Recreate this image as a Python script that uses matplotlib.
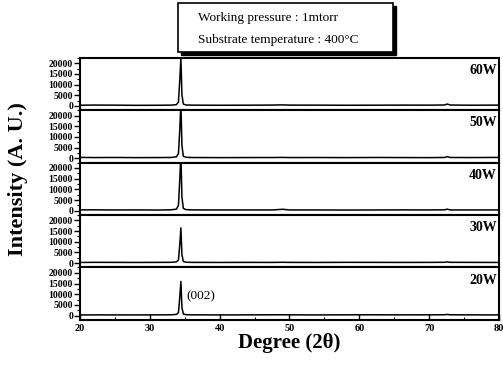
import matplotlib.pyplot as plt
from matplotlib.patches import Rectangle
from matplotlib.ticker import MultipleLocator

plt.rcParams["font.family"] = ["Liberation Serif", "DejaVu Serif"]

# 2-theta sample points shared by all scans
TWO_THETA = [20, 22, 25, 28, 31, 33.0, 33.8, 34.1, 34.3, 34.45, 34.6, 34.8, 35.2,
             36, 40, 44, 47.5, 49.0, 50.0, 54, 58, 62.5, 66, 70, 72.2, 72.6, 73.0, 76, 80]

POWERS = ["60W", "50W", "40W", "30W", "20W"]
INTENSITY = {
    "60W": [350, 420, 380, 300, 330, 380, 600, 1800, 12500, 22500, 5200, 900, 450,
            380, 330, 360, 420, 500, 400, 380, 330, 360, 400, 380, 450, 900, 450, 350, 400],
    "50W": [450, 380, 420, 350, 380, 420, 700, 2200, 14000, 26000, 6000, 1000, 500,
            400, 350, 380, 400, 450, 380, 400, 360, 420, 380, 350, 420, 800, 420, 380, 450],
    "40W": [400, 450, 380, 420, 350, 450, 750, 2500, 15000, 27000, 6500, 1100, 550,
            420, 380, 400, 380, 700, 400, 380, 350, 380, 420, 400, 450, 750, 400, 380, 420],
    "30W": [350, 400, 380, 350, 380, 400, 600, 1500, 9000, 16500, 4000, 800, 450,
            380, 350, 380, 360, 420, 380, 350, 400, 380, 360, 380, 420, 600, 400, 380, 350],
    "20W": [300, 350, 330, 320, 350, 380, 550, 1400, 9000, 16000, 3800, 750, 420,
            360, 330, 350, 380, 400, 360, 330, 360, 380, 350, 360, 400, 550, 380, 350, 330],
}

fig = plt.figure(figsize=(5.03, 3.66), dpi=100)
axes = fig.subplots(len(POWERS), 1, sharex=True,
                    gridspec_kw=dict(hspace=0, left=0.159, right=0.992,
                                     bottom=0.126, top=0.842))

for ax, p in zip(axes, POWERS):
    ax.plot(TWO_THETA, INTENSITY[p], color="black", lw=1.1)
    ax.set_xlim(20, 80)
    ax.set_ylim(-2000, 22500)
    ax.yaxis.set_major_locator(MultipleLocator(5000))
    ax.yaxis.set_minor_locator(MultipleLocator(2500))
    ax.tick_params(axis="y", which="major", direction="out", length=4, width=1,
                   labelsize=7, pad=1)
    ax.tick_params(axis="y", which="minor", direction="out", length=2, width=0.8)
    for lbl in ax.get_yticklabels():
        lbl.set_fontweight("bold")
    for s in ax.spines.values():
        s.set_linewidth(1.5)
    ax.text(0.995, 0.76, p, transform=ax.transAxes, ha="right", va="center",
            fontsize=10, fontweight="bold")
    if ax is not axes[-1]:
        ax.tick_params(axis="x", which="both", bottom=False)

bot = axes[-1]
bot.xaxis.set_major_locator(MultipleLocator(10))
bot.xaxis.set_minor_locator(MultipleLocator(5))
bot.tick_params(axis="x", which="major", direction="in", length=4, width=1,
                labelsize=7.5, pad=3)
bot.tick_params(axis="x", which="minor", direction="in", length=2, width=0.8)
for lbl in bot.get_xticklabels():
    lbl.set_fontweight("bold")
bot.text(35.2, 9000, "(002)", fontsize=9.5, va="center")
bot.set_xlabel("Degree (2\u03b8)", fontsize=15, fontweight="bold", labelpad=0)

fig.text(0.035, 0.51, "Intensity (A. U.)", rotation=90, ha="center", va="center",
         fontsize=16, fontweight="bold")

# annotation box with drop shadow
bx, by, bw, bh = 0.354, 0.858, 0.427, 0.134
fig.patches.append(Rectangle((bx + 0.006, by - 0.008), bw, bh, transform=fig.transFigure,
                             facecolor="black", edgecolor="black", zorder=1))
fig.patches.append(Rectangle((bx, by), bw, bh, transform=fig.transFigure,
                             facecolor="white", edgecolor="black", lw=1.2, zorder=2))
fig.text(0.394, 0.951, "Working pressure : 1mtorr", fontsize=9.5, va="center", zorder=3)
fig.text(0.394, 0.891, "Substrate temperature : 400\u00b0C", fontsize=9.5, va="center", zorder=3)

fig.savefig("out.png", dpi=100)
